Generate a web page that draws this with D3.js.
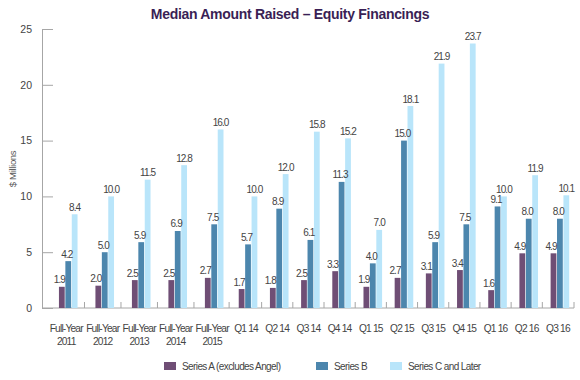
<!DOCTYPE html>
<html>
<head>
<meta charset="utf-8">
<script src="https://cdn.jsdelivr.net/npm/d3@7"></script>
<style>
  html, body { margin: 0; padding: 0; background: #fff; }
  svg { display: block; font-family: "Liberation Sans", Arial, Helvetica, sans-serif; }
</style>
</head>
<body>
<svg id="chart" width="580" height="380"></svg>
<script>
const categories = ["Full-Year\n2011", "Full-Year\n2012", "Full-Year\n2013", "Full-Year\n2014", "Full-Year\n2015",
  "Q1 14", "Q2 14", "Q3 14", "Q4 14", "Q1 15", "Q2 15", "Q3 15", "Q4 15", "Q1 16", "Q2 16", "Q3 16"];
const seriesNames = ["Series A (excludes Angel)", "Series B", "Series C and Later"];
const seriesA = [1.9, 2.0, 2.5, 2.5, 2.7, 1.7, 1.8, 2.5, 3.3, 1.9, 2.7, 3.1, 3.4, 1.6, 4.9, 4.9];
const seriesB = [4.2, 5.0, 5.9, 6.9, 7.5, 5.7, 8.9, 6.1, 11.3, 4.0, 15.0, 5.9, 7.5, 9.1, 8.0, 8.0];
const seriesC = [8.4, 10.0, 11.5, 12.8, 16.0, 10.0, 12.0, 15.8, 15.2, 7.0, 18.1, 21.9, 23.7, 10.0, 11.9, 10.1];
const yTicks = [0, 5, 10, 15, 20, 25];
const title = "Median Amount Raised \u2013 Equity Financings";
const yLabel = "$ Millions";

const colors = ["#6f4e75", "#4c86ad", "#b9e5fa"];
const seriesData = [seriesA, seriesB, seriesC];

const svg = d3.select("#chart");
const axisX0 = 42, axisX1 = 574, y0 = 308, yTop = 29;

const y = d3.scaleLinear().domain([0, 25]).range([y0, yTop]);

// variable-width categories: annual groups are wider than quarterly ones
const weights = categories.map(c => c.startsWith("Full-Year") ? 1.17 : 1);
const offsets = [];
let acc = 0;
weights.forEach(w => { offsets.push(acc); acc += w; });
const u = d3.scaleLinear().domain([0, acc]).range([50, 575.5]);
const centerOf = i => u(offsets[i] + weights[i] / 2);

const sub = d3.scaleBand().domain(d3.range(3)).range([-9.3, 9.3]).paddingInner(0.1);

// title
svg.append("text")
  .attr("x", 290).attr("y", 19)
  .attr("text-anchor", "middle")
  .attr("font-size", 14).attr("font-weight", "bold")
  .attr("fill", "#3a1f55")
  .attr("letter-spacing", -0.3)
  .text(title);

// y axis
const yAxis = d3.axisLeft(y).tickValues(yTicks).tickSize(-11).tickPadding(10).tickSizeOuter(0);
const gy = svg.append("g").attr("transform", `translate(${axisX0},0)`).call(yAxis);
gy.select(".domain").attr("stroke", "#a6a6a6");
gy.selectAll(".tick line").attr("stroke", "#a6a6a6");
gy.selectAll(".tick text").attr("font-size", 10.5).attr("fill", "#444").attr("font-family", "Liberation Sans, Arial, sans-serif");

// y label
svg.append("text")
  .attr("transform", `translate(16,169) rotate(-90)`)
  .attr("text-anchor", "middle")
  .attr("font-size", 9.5).attr("fill", "#555")
  .attr("letter-spacing", -0.3)
  .text(yLabel);

// x axis line
svg.append("line").attr("x1", axisX0).attr("x2", axisX1).attr("y1", y0).attr("y2", y0)
  .attr("stroke", "#a6a6a6");
// x tick marks at category boundaries
const bounds = [];
for (let i = 0; i < categories.length - 1; i++) bounds.push((centerOf(i) + centerOf(i + 1)) / 2 - 2);
bounds.push(axisX1);
svg.append("g").selectAll("line").data(bounds).join("line")
  .attr("x1", d => d).attr("x2", d => d).attr("y1", y0).attr("y2", y0 - 6)
  .attr("stroke", "#a6a6a6");

// x labels
const xl = svg.append("g").selectAll("text").data(categories).join("text")
  .attr("text-anchor", "middle")
  .attr("font-size", 10.2).attr("fill", "#444")
  .attr("letter-spacing", -0.8);
xl.each(function(d, i) {
  const lines = d.split("\n");
  const t = d3.select(this);
  lines.forEach((ln, k) => {
    t.append("tspan").attr("x", centerOf(i) - 2).attr("y", 332 + k * 12.5).text(ln);
  });
});

// bars
seriesData.forEach((vals, s) => {
  svg.append("g").selectAll("rect").data(vals).join("rect")
    .attr("x", (d, i) => centerOf(i) + sub(s))
    .attr("width", sub.bandwidth())
    .attr("y", d => y(d))
    .attr("height", d => y0 - y(d))
    .attr("fill", colors[s]);
});
// value labels (on top of all bars)
const labelShift = [-2.5, -1.5, 0];
seriesData.forEach((vals, s) => {
  svg.append("g").selectAll("text").data(vals).join("text")
    .attr("x", (d, i) => centerOf(i) + sub(s) + sub.bandwidth() / 2 + labelShift[s])
    .attr("y", d => y(d) - 3.5)
    .attr("text-anchor", "middle")
    .attr("font-size", 10).attr("fill", "#444")
    .attr("letter-spacing", -0.9)
    .text(d => d.toFixed(1));
});

// legend
const legendX = [164, 316, 390];
const lg = svg.append("g").selectAll("g").data(seriesNames).join("g")
  .attr("transform", (d, i) => `translate(${legendX[i]},362)`);
lg.append("rect").attr("width", 12).attr("height", 8).attr("fill", (d, i) => colors[i]);
lg.append("text").attr("x", 18).attr("y", 8)
  .attr("font-size", 10).attr("fill", "#444").attr("letter-spacing", -0.6)
  .text(d => d);
</script>
</body>
</html>
